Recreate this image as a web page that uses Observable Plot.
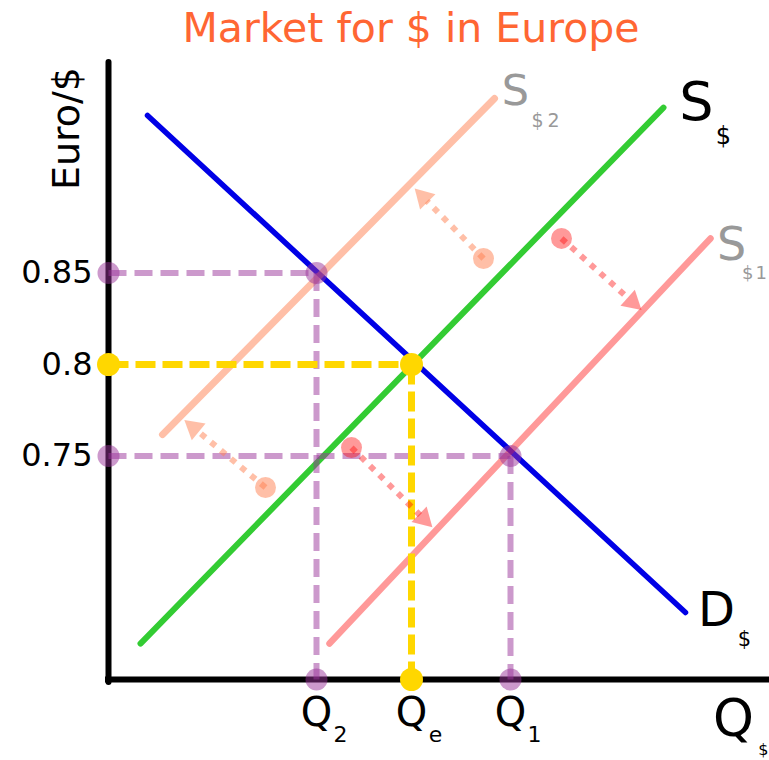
<!DOCTYPE html>
<html>
<head>
<meta charset="utf-8">
<script src="https://cdn.jsdelivr.net/npm/d3@7"></script>
<script src="https://cdn.jsdelivr.net/npm/@observablehq/plot@0.6"></script>
<style>
  html, body { margin: 0; padding: 0; background: #ffffff; }
  #chart svg { display: block; }
</style>
</head>
<body>
<div id="chart"></div>
<script>
// ---- Data ----
const chartTitle = "Market for $ in Europe";
const yAxisLabel = "Euro/$";
const priceTicks = [0.75, 0.8, 0.85];
const priceTickLabels = ["0.75", "0.8", "0.85"];

// Quantities on the horizontal axis and the prices read at them
const quantitySubscripts = ["2", "e", "1"];
const quantityValues = [41.6, 60.6, 80.4];
const quantityPrices = [0.85, 0.8, 0.75];

// Curves (start point -> end point)
const curveNames = ["D", "S", "S2", "S1"];
const curveX1 = [7.8, 6.4, 10.8, 44.2];
const curveY1 = [0.9361, 0.6475, 0.7617, 0.6475];
const curveX2 = [115.4, 111.0, 77.2, 120.4];
const curveY2 = [0.6645, 0.9404, 0.9454, 0.8689];
const curveLabelMain = ["D", "S", "S", "S"];
const curveLabelSub = ["$", "$", "$2", "$1"];

// Shift arrows
const shiftCurve = ["S2", "S2", "S1", "S1"];
const shiftFromX = [75.0, 31.4, 90.6, 48.6];
const shiftFromY = [0.8579, 0.7328, 0.8689, 0.7546];
const shiftToX = [62.0, 16.0, 105.8, 64.0];
const shiftToY = [0.8940, 0.7678, 0.8317, 0.7131];

// Axis extents
const xMin = 0, xMax = 132.2;
const yMin = 0.62787, yMax = 0.96503;
const quantityAxisLabel = "Q";
const quantityAxisSub = "$";

// ---- Layout ----
const W = 769, H = 760;
const mLeft = 108, mRight = 0, mTop = 62, mBottom = 81;
const kx = (W - mLeft - mRight) / (xMax - xMin);   // px per quantity unit
const ky = (H - mTop - mBottom) / (yMax - yMin);   // px per price unit

// ---- Build tables ----
const curves = curveNames.map((name, i) => ({
  name, x1: curveX1[i], y1: curveY1[i], x2: curveX2[i], y2: curveY2[i],
  main: curveLabelMain[i], sub: curveLabelSub[i]
}));
const shifts = shiftCurve.map((c, i) => {
  const x1 = shiftFromX[i], y1 = shiftFromY[i], x2 = shiftToX[i], y2 = shiftToY[i];
  const dxp = (x2 - x1) * kx, dyp = -(y2 - y1) * ky;
  const len = Math.hypot(dxp, dyp);
  const fHead = 1 - 7 / len;     // triangle centre, a little before the tip
  const fShaft = 1 - 12 / len;   // dotted shaft stops at the head's base
  return {
    curve: c, x1, y1, x2, y2,
    sx: x1 + (x2 - x1) * fShaft, sy: y1 + (y2 - y1) * fShaft,
    hx: x1 + (x2 - x1) * fHead, hy: y1 + (y2 - y1) * fHead,
    angle: Math.atan2(dyp, dxp) * 180 / Math.PI + 90
  };
});
const quantities = quantityValues.map((q, i) => ({q, p: quantityPrices[i], sub: quantitySubscripts[i]}));
const ticks = priceTicks.map((p, i) => ({p, label: priceTickLabels[i]}));

const purpleQ = quantities.filter(d => d.sub !== "e");
const yellowQ = quantities.filter(d => d.sub === "e");

const curveStyle = {
  D:  {stroke: "#0000e6", strokeWidth: 5.5, strokeOpacity: 1},
  S:  {stroke: "#33cc33", strokeWidth: 6, strokeOpacity: 1},
  S2: {stroke: "#ff7f50", strokeWidth: 7, strokeOpacity: 0.5},
  S1: {stroke: "#ff0000", strokeWidth: 6.5, strokeOpacity: 0.4}
};
const labelStyle = {
  D:  {fill: "#000000", mainSize: 48, subSize: 21, mdx: 31, mdy: -2, sdx: 59, sdy: 27},
  S:  {fill: "#000000", mainSize: 54, subSize: 24, mdx: 33, mdy: -5, sdx: 60, sdy: 29},
  S2: {fill: "#999999", mainSize: 43, subSize: 19, mdx: 21, mdy: -7, sdx: 53, sdy: 22},
  S1: {fill: "#999999", mainSize: 46, subSize: 18, mdx: 21, mdy: 7, sdx: 45, sdy: 35}
};

const purple = "#993399", purpleOp = 0.5;
const gold = "#ffd700";

const marks = [];

// Axes
marks.push(Plot.ruleX([xMin], {y1: yMin - 0.0016, y2: yMax, stroke: "#000", strokeWidth: 6, strokeLinecap: "round"}));
marks.push(Plot.ruleY([yMin], {x1: xMin - 0.6, x2: xMax, stroke: "#000", strokeWidth: 6}));

// Curves
for (const c of curves) {
  const s = curveStyle[c.name];
  marks.push(Plot.link([c], {x1: "x1", y1: "y1", x2: "x2", y2: "y2", ...s, strokeLinecap: "round"}));
}

// Dashed guide lines (purple)
marks.push(Plot.link(purpleQ, {x1: xMin, y1: "p", x2: "q", y2: "p", stroke: purple, strokeOpacity: purpleOp, strokeWidth: 6, strokeDasharray: "18,8"}));
marks.push(Plot.link(purpleQ, {x1: "q", y1: "p", x2: "q", y2: yMin, stroke: purple, strokeOpacity: purpleOp, strokeWidth: 6, strokeDasharray: "18,8"}));
// Dashed guide lines (yellow)
marks.push(Plot.link(yellowQ, {x1: xMin, y1: "p", x2: "q", y2: "p", stroke: gold, strokeWidth: 7, strokeDasharray: "20,7"}));
marks.push(Plot.link(yellowQ, {x1: "q", y1: "p", x2: "q", y2: yMin, stroke: gold, strokeWidth: 7, strokeDasharray: "20,7"}));

// Dots
const purpleDots = purpleQ.flatMap(d => [{x: xMin, y: d.p}, {x: d.q, y: d.p}, {x: d.q, y: yMin}]);
const yellowDots = yellowQ.flatMap(d => [{x: xMin, y: d.p}, {x: d.q, y: d.p}, {x: d.q, y: yMin}]);
marks.push(Plot.dot(purpleDots, {x: "x", y: "y", r: 11, fill: purple, fillOpacity: purpleOp, stroke: "none"}));
marks.push(Plot.dot(yellowDots, {x: "x", y: "y", r: 11.5, fill: gold, stroke: "none"}));

// Shift arrows
for (const s of shifts) {
  const st = curveStyle[s.curve];
  marks.push(Plot.dot([s], {x: "x1", y: "y1", r: 10.5, fill: st.stroke, fillOpacity: st.strokeOpacity, stroke: "none"}));
  marks.push(Plot.link([s], {x1: "x1", y1: "y1", x2: "sx", y2: "sy", stroke: st.stroke, strokeOpacity: st.strokeOpacity, strokeWidth: 6, strokeDasharray: "6,7"}));
  marks.push(Plot.dot([s], {x: "hx", y: "hy", symbol: "triangle", r: 8, rotate: "angle", fill: st.stroke, fillOpacity: st.strokeOpacity, stroke: "none"}));
}

// Y tick labels
marks.push(Plot.text(ticks, {x: xMin, y: "p", text: "label", textAnchor: "end", lineAnchor: "middle", dx: -16, fontSize: 32, fill: "#000"}));

// Quantity labels
marks.push(Plot.text(quantities, {x: "q", y: yMin, text: d => "Q", textAnchor: "middle", lineAnchor: "middle", dy: 34, fontSize: 40, fill: "#000"}));
marks.push(Plot.text(quantities, {x: "q", y: yMin, text: "sub", textAnchor: "middle", lineAnchor: "middle", dx: 24, dy: 55, fontSize: 22, fill: "#000"}));

// Axis labels
marks.push(Plot.text([quantityAxisLabel], {x: xMax, y: yMin, text: d => d, textAnchor: "middle", lineAnchor: "middle", dx: -36, dy: 40, fontSize: 52, fill: "#000"}));
marks.push(Plot.text([quantityAxisSub], {x: xMax, y: yMin, text: d => d, textAnchor: "end", lineAnchor: "middle", dx: -1, dy: 70, fontSize: 16, fill: "#000"}));
marks.push(Plot.text([yAxisLabel], {frameAnchor: "top-left", text: d => d, dx: -42, dy: 66, rotate: -90, textAnchor: "middle", lineAnchor: "middle", fontSize: 38, fill: "#000"}));

// Curve labels
for (const c of curves) {
  const l = labelStyle[c.name];
  marks.push(Plot.text([c], {x: "x2", y: "y2", text: "main", textAnchor: "middle", lineAnchor: "middle", dx: l.mdx, dy: l.mdy, fontSize: l.mainSize, fill: l.fill}));
  marks.push(Plot.text([c], {x: "x2", y: "y2", text: "sub", textAnchor: "middle", lineAnchor: "middle", dx: l.sdx, dy: l.sdy, fontSize: l.subSize, fill: l.fill}));
}

// Title
marks.push(Plot.text([chartTitle], {frameAnchor: "top", text: d => d, dx: -28, dy: -34, textAnchor: "middle", lineAnchor: "middle", fontSize: 41, fill: "#ff6633"}));

const chart = Plot.plot({
  width: W,
  height: H,
  marginLeft: mLeft,
  marginRight: mRight,
  marginTop: mTop,
  marginBottom: mBottom,
  x: {domain: [xMin, xMax], axis: null},
  y: {domain: [yMin, yMax], axis: null},
  style: {fontFamily: "DejaVu Sans", background: "#ffffff", overflow: "visible"},
  marks
});
d3.select(chart).selectAll("text").filter(function () {
  return this.textContent === "$2";
}).attr("letter-spacing", "4px");
d3.select(chart).selectAll("text").filter(function () {
  return this.textContent === "$1";
}).attr("letter-spacing", "2px");
document.getElementById("chart").appendChild(chart);
</script>
</body>
</html>
